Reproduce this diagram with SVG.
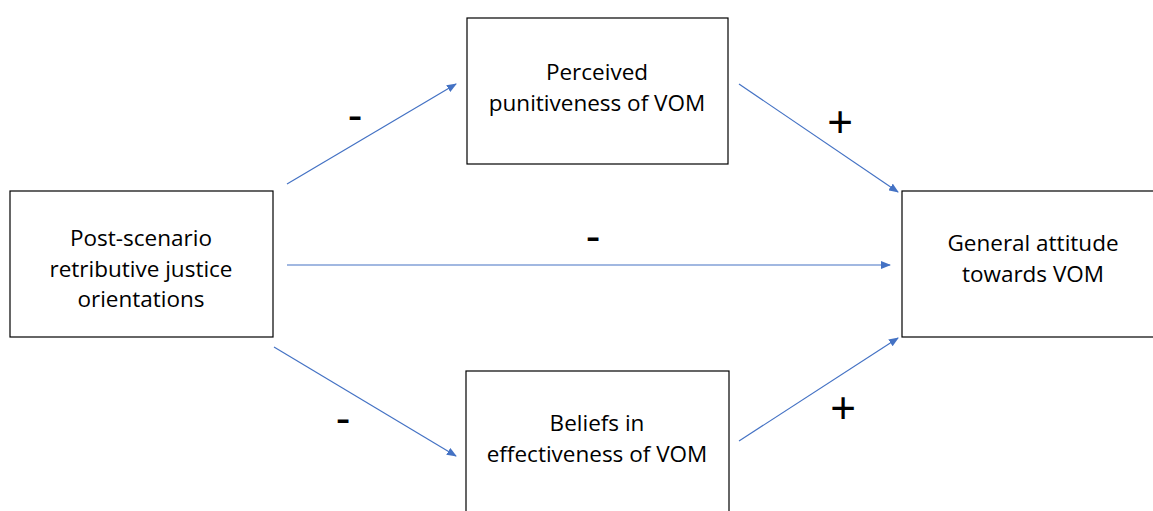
<svg xmlns="http://www.w3.org/2000/svg" width="1153" height="511" viewBox="0 0 1153 511">
<style>
.box{fill:#fff;stroke:#000;stroke-width:1.2}
.t{font-family:"Open Sans","Liberation Sans",sans-serif;font-size:22.5px;fill:#000;text-anchor:middle}
.s{font-family:"Liberation Sans",sans-serif;font-size:44px;fill:#000;text-anchor:middle}
.c{stroke:#4472C4;stroke-width:1.2;fill:none;marker-end:url(#ah)}
</style>
<defs>
<marker id="ah" markerWidth="10" markerHeight="8" refX="9" refY="4" orient="auto" markerUnits="userSpaceOnUse">
<path d="M0,0 L10,4 L0,8 Z" fill="#4472C4"/>
</marker>
</defs>
<rect width="1153" height="511" fill="#fff"/>
<g id="connectors">
<line class="c" x1="287" y1="184" x2="456" y2="84"/>
<line class="c" x1="287" y1="265" x2="890" y2="265"/>
<line class="c" x1="274" y1="347" x2="456" y2="456"/>
<line class="c" x1="739" y1="84" x2="898" y2="192"/>
<line class="c" x1="739" y1="441" x2="898" y2="338"/>
</g>
<g id="labels">
<text class="s" x="355" y="130">-</text>
<text class="s" x="840" y="137">+</text>
<text class="s" x="593" y="251">-</text>
<text class="s" x="343" y="433">-</text>
<text class="s" x="843" y="423">+</text>
</g>
<g id="n1">
<rect class="box" x="10" y="191" width="263" height="146"/>
<text class="t" x="141" y="246">Post-scenario</text>
<text class="t" x="141" y="277">retributive justice</text>
<text class="t" x="141" y="307">orientations</text>
</g>
<g id="n2">
<rect class="box" x="467" y="18" width="261" height="146"/>
<text class="t" x="597" y="80">Perceived</text>
<text class="t" x="597" y="111">punitiveness of VOM</text>
</g>
<g id="n3">
<rect class="box" x="466" y="371" width="263" height="150"/>
<text class="t" x="597" y="431">Beliefs in</text>
<text class="t" x="597" y="462">effectiveness of VOM</text>
</g>
<g id="n4">
<rect class="box" x="902" y="191" width="260" height="146"/>
<text class="t" x="1033" y="251">General attitude</text>
<text class="t" x="1033" y="282">towards VOM</text>
</g>
</svg>
